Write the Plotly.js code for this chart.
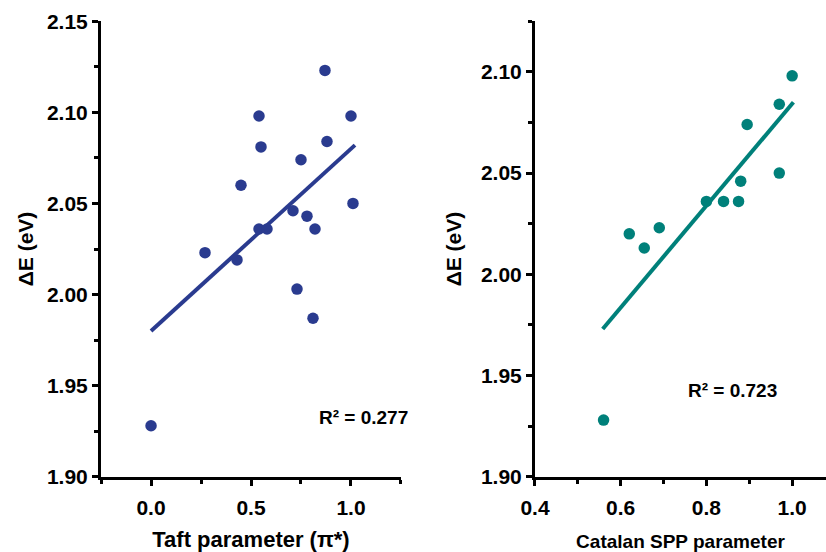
<!DOCTYPE html>
<html>
<head>
<meta charset="utf-8">
<script src="https://cdn.plot.ly/plotly-3.0.1.min.js"></script>
<style>html,body{margin:0;padding:0;background:#fff;}#chart{width:826px;height:552px;}</style>
</head>
<body>
<div id="chart"></div>
<script>
// Left panel: Taft parameter (pi*)
const taftX = [0.00, 0.27, 0.43, 0.45, 0.54, 0.55, 0.54, 0.58, 0.71, 0.73, 0.75, 0.78, 0.82, 0.81, 0.87, 0.88, 1.00, 1.01];
const taftE = [1.928, 2.023, 2.019, 2.060, 2.098, 2.081, 2.036, 2.036, 2.046, 2.003, 2.074, 2.043, 2.036, 1.987, 2.123, 2.084, 2.098, 2.050];
const taftFitX = [0.00, 1.02];
const taftFitE = [1.980, 2.082];
const taftR2 = "R² = 0.277";

// Right panel: Catalan SPP parameter
const sppX = [0.56, 0.62, 0.655, 0.69, 0.80, 0.84, 0.875, 0.88, 0.895, 0.97, 0.97, 1.00];
const sppE = [1.928, 2.020, 2.013, 2.023, 2.036, 2.036, 2.036, 2.046, 2.074, 2.050, 2.084, 2.098];
const sppFitX = [0.558, 1.003];
const sppFitE = [1.973, 2.085];
const sppR2 = "R² = 0.723";

const blue = '#2a3b8f';
const teal = '#00807a';
const FONT = 'Liberation Sans, Arial, sans-serif';

const traces = [
  {x: taftFitX, y: taftFitE, type: 'scatter', mode: 'lines', line: {color: blue, width: 4}, xaxis: 'x', yaxis: 'y', hoverinfo: 'skip'},
  {x: taftX, y: taftE, type: 'scatter', mode: 'markers', marker: {color: blue, size: 11.5}, xaxis: 'x', yaxis: 'y'},
  {x: sppFitX, y: sppFitE, type: 'scatter', mode: 'lines', line: {color: teal, width: 4}, xaxis: 'x2', yaxis: 'y2', hoverinfo: 'skip'},
  {x: sppX, y: sppE, type: 'scatter', mode: 'markers', marker: {color: teal, size: 11.5}, xaxis: 'x2', yaxis: 'y2'}
];

function ax(extra) {
  return Object.assign({
    showline: true, linecolor: '#000', linewidth: 3,
    showgrid: false, zeroline: false,
    ticks: 'outside', ticklen: 6, tickwidth: 3, tickcolor: '#000',
    tickfont: {family: FONT, size: 21, color: '#000', weight: 'bold'},
    fixedrange: true
  }, extra);
}

const layout = {
  width: 826, height: 552,
  margin: {l: 101, r: 0, t: 21, b: 75},
  paper_bgcolor: '#fff', plot_bgcolor: '#fff',
  showlegend: false,
  font: {family: FONT, color: '#000'},
  xaxis: ax({
    domain: [0, 0.4138], anchor: 'y',
    range: [-0.2502, 1.2502], tick0: 0, dtick: 0.5, tickformat: '.1f', ticklabelstandoff: 4,
    minor: {dtick: 0.25, tick0: 0, ticks: 'outside', ticklen: 4, tickwidth: 3, tickcolor: '#000'},
    title: {text: 'Taft parameter (π*)', font: {family: FONT, size: 22, color: '#000', weight: 'bold'}, standoff: 14}
  }),
  yaxis: ax({
    domain: [0, 1], anchor: 'x',
    range: [1.8999, 2.1501], tick0: 1.9, dtick: 0.05, tickformat: '.2f',
    minor: {dtick: 0.025, tick0: 1.9, ticks: 'outside', ticklen: 4, tickwidth: 3, tickcolor: '#000'},
    title: {text: 'ΔE (eV)', font: {family: FONT, size: 21, color: '#000', weight: 'bold'}, standoff: 8}
  }),
  xaxis2: ax({
    domain: [0.5986, 1], anchor: 'y2',
    range: [0.4, 1.079], tick0: 0.4, dtick: 0.2, tickformat: '.1f', ticklabelstandoff: 4,
    minor: {dtick: 0.1, tick0: 0.4, ticks: 'outside', ticklen: 4, tickwidth: 3, tickcolor: '#000'},
    title: {text: 'Catalan SPP parameter', font: {family: FONT, size: 19, color: '#000', weight: 'bold'}, standoff: 17}
  }),
  yaxis2: ax({
    domain: [0, 1], anchor: 'x2',
    range: [1.8999, 2.1251], tick0: 1.9, dtick: 0.05, tickformat: '.2f',
    minor: {dtick: 0.025, tick0: 1.9, ticks: 'outside', ticklen: 4, tickwidth: 3, tickcolor: '#000'},
    title: {text: 'ΔE (eV)', font: {family: FONT, size: 21, color: '#000', weight: 'bold'}, standoff: 14}
  }),
  annotations: [
    {text: taftR2, xref: 'x', yref: 'y', x: 1.0625, y: 1.9325, xanchor: 'center', yanchor: 'middle', showarrow: false,
     font: {family: FONT, size: 19, color: '#000', weight: 'bold'}},
    {text: sppR2, xref: 'x2', yref: 'y2', x: 0.86, y: 1.9424, xanchor: 'center', yanchor: 'middle', showarrow: false,
     font: {family: FONT, size: 19, color: '#000', weight: 'bold'}}
  ]
};

Plotly.newPlot('chart', traces, layout, {displayModeBar: false, staticPlot: true});
</script>
</body>
</html>
